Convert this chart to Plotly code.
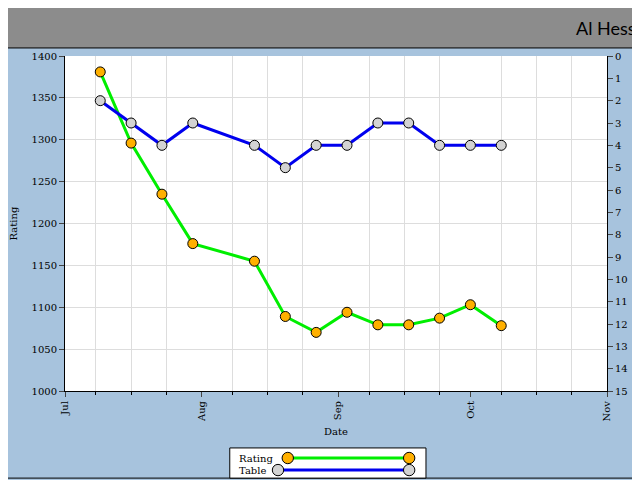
import plotly.graph_objects as go

dates = ["2023-07-09","2023-07-16","2023-07-23","2023-07-30","2023-08-13","2023-08-20",
         "2023-08-27","2023-09-03","2023-09-10","2023-09-17","2023-09-24","2023-10-01","2023-10-08"]
rating = [1381,1296,1235,1176,1155,1089,1070,1094,1079,1079,1087,1103,1078]
table = [2,3,4,3,4,5,4,4,3,3,4,4,4]
month_ticks = ["2023-07-01","2023-08-01","2023-09-01","2023-10-01","2023-11-01"]
month_labels = ["Jul","Aug","Sep","Oct","Nov"]
minor_ticks = [f"2023-{m:02d}-{d:02d}" for m in (7,8,9,10) for d in (8,16,24)]

F = "DejaVu Serif"
fig = go.Figure()
fig.add_trace(go.Scatter(x=dates, y=rating, mode="lines+markers", name="Rating",
    line=dict(color="#00ee00", width=3),
    marker=dict(size=10, color="#ffb000", line=dict(color="black", width=1))))
fig.add_trace(go.Scatter(x=dates, y=table, mode="lines+markers", name="Table", yaxis="y2",
    line=dict(color="#0000ee", width=3),
    marker=dict(size=10, color="#d3d3d3", line=dict(color="black", width=1))))
fig.add_trace(go.Scatter(x=[month_ticks[0], month_ticks[-1]], y=[None, None], xaxis="x2",
    showlegend=False, hoverinfo="skip"))

rng = ["2023-07-01","2023-11-01"]
fig.update_layout(
    width=640, height=480, showlegend=False,
    paper_bgcolor="#a7c3dd", plot_bgcolor="white",
    margin=dict(l=57, r=41, t=48, b=97, autoexpand=False),
    font=dict(family=F, size=10, color="black"),
    xaxis=dict(range=rng, tickvals=month_ticks, ticktext=month_labels, tickangle=-90,
               showgrid=False, ticks="outside", ticklen=5, showline=True, linecolor="black",
               title=dict(text="Date", font=dict(size=10), standoff=6), zeroline=False,
               automargin=False),
    xaxis2=dict(range=rng, overlaying="x", tickvals=minor_ticks, showticklabels=False,
                showgrid=True, gridcolor="#dddddd", ticks="outside", ticklen=3, side="bottom",
                tickcolor="black", automargin=False),
    yaxis=dict(range=[1000,1400], dtick=50, showgrid=True, gridcolor="#dddddd",
               ticks="outside", ticklen=5, showline=True, linecolor="black",
               title=dict(text="Rating", font=dict(size=10)), zeroline=False, automargin=False),
    yaxis2=dict(range=[15,0], dtick=1, overlaying="y", side="right", showgrid=False,
                ticks="outside", ticklen=5, showline=True, linecolor="black",
                title=dict(text="Table", font=dict(size=10)), zeroline=False, automargin=False),
)
fig.add_shape(type="rect", xref="paper", yref="paper", x0=-0.2, x1=1.2, y0=1.024, y1=1.2,
              fillcolor="#8c8c8c", line=dict(color="black", width=1), layer="below")
fig.add_annotation(text="Al Hess", xref="paper", yref="paper", x=1.057, y=1.084,
                   xanchor="right", yanchor="middle", showarrow=False,
                   font=dict(family="Comic Sans MS, Lato", size=18, color="black"))
fig.add_shape(type="line", xref="paper", yref="paper", x0=-0.2, x1=1.2, y0=-0.26, y1=-0.26,
              line=dict(color="black", width=1))
fig.add_shape(type="rect", xref="paper", yref="paper", x0=0.304, x1=0.666, y0=-0.26, y1=-0.17,
              fillcolor="white", line=dict(color="black", width=1))
for yy, name, lc, mc, x0 in [(-0.2, "Rating", "#00ee00", "#ffb000", 0.411),
                              (-0.236, "Table", "#0000ee", "#d3d3d3", 0.393)]:
    fig.add_annotation(text=name, xref="paper", yref="paper", x=0.317, y=yy, xanchor="left",
                       yanchor="middle", showarrow=False, font=dict(size=10))
    fig.add_shape(type="line", xref="paper", yref="paper", x0=x0, x1=0.635, y0=yy, y1=yy,
                  line=dict(color=lc, width=3))
    for xx in (x0, 0.635):
        fig.add_shape(type="circle", xref="paper", yref="paper", x0=xx-0.0105, x1=xx+0.0105,
                      y0=yy-0.017, y1=yy+0.017, fillcolor=mc, line=dict(color="black", width=1))
fig.write_html("out.html")
